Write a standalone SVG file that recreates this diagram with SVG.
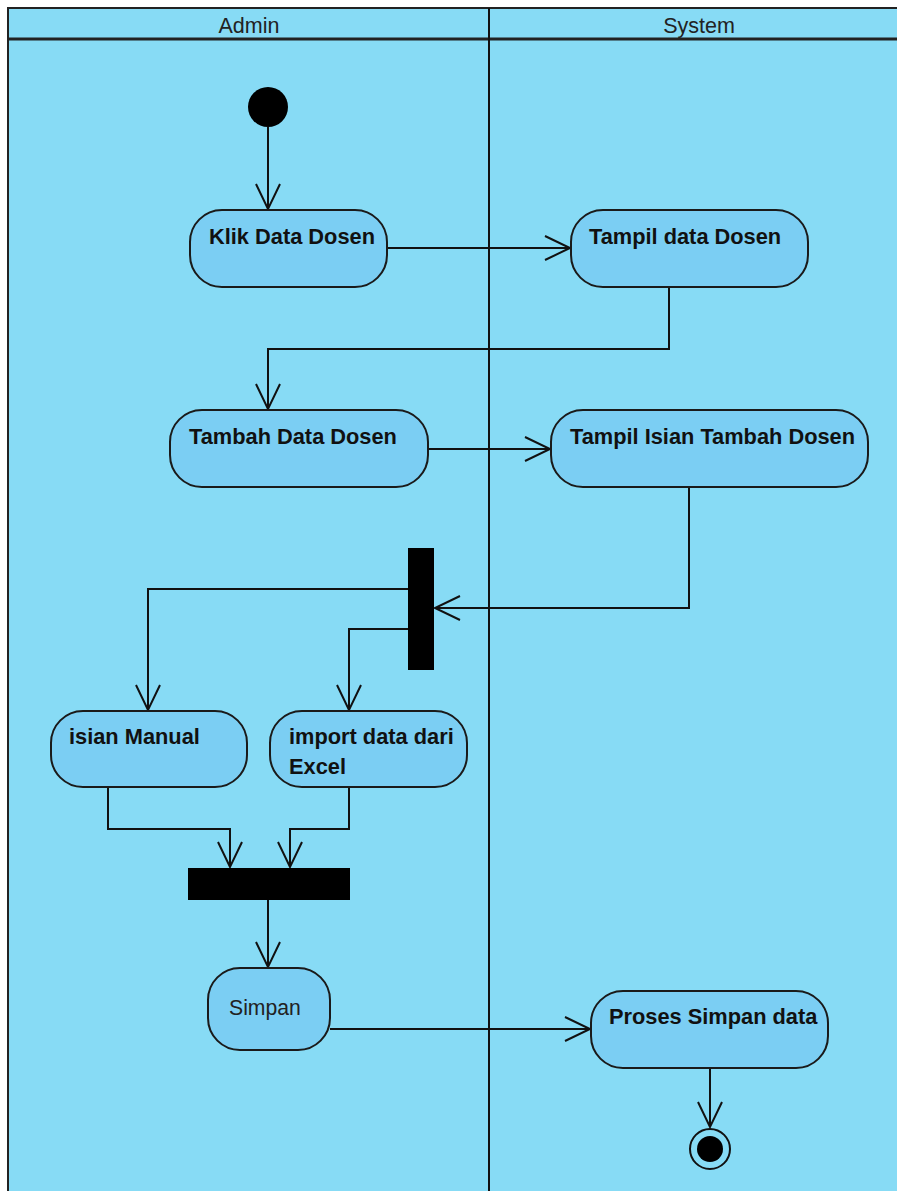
<svg xmlns="http://www.w3.org/2000/svg" width="897" height="1191" viewBox="0 0 897 1191">
<style>
.lane{fill:#87DBF5;stroke:#222;stroke-width:2}
.node{fill:#7BCEF3;stroke:#1a1a1a;stroke-width:2}
.lbl{font-family:"Liberation Sans",Arial,sans-serif;font-size:21.8px;font-weight:bold;fill:#111}
.reg{font-family:"Liberation Sans",Arial,sans-serif;font-size:21.2px;fill:#222}
.hdr{font-family:"Liberation Sans",Arial,sans-serif;font-size:21.5px;fill:#222;text-anchor:middle}
.edge{fill:none;stroke:#111;stroke-width:2}
</style>
<defs>
<marker id="arr" markerUnits="userSpaceOnUse" markerWidth="30" markerHeight="30" viewBox="-27 -14 30 28" refX="0" refY="0" orient="auto">
<path d="M-25,-12 L0,0 L-25,12" fill="none" stroke="#111" stroke-width="2"/>
</marker>
</defs>
<rect x="0" y="0" width="897" height="1191" fill="#ffffff"/>
<g id="lanes">
<rect class="lane" x="8" y="8" width="900" height="1200"/>
<line x1="8" y1="39" x2="897" y2="39" stroke="#222" stroke-width="3"/>
<line x1="489" y1="8" x2="489" y2="1191" stroke="#111" stroke-width="2"/>
<text class="hdr" x="249" y="33">Admin</text>
<text class="hdr" x="699" y="33">System</text>
</g>
<g id="connectors">
<path class="edge" d="M268,127 L268,209" marker-end="url(#arr)"/>
<path class="edge" d="M387,248 L570,248" marker-end="url(#arr)"/>
<path class="edge" d="M669,287 L669,349 L268,349 L268,409" marker-end="url(#arr)"/>
<path class="edge" d="M428,449 L550,449" marker-end="url(#arr)"/>
<path class="edge" d="M689,487 L689,608 L435,608" marker-end="url(#arr)"/>
<path class="edge" d="M408,589 L148,589 L148,710" marker-end="url(#arr)"/>
<path class="edge" d="M408,629 L349,629 L349,710" marker-end="url(#arr)"/>
<path class="edge" d="M108,787 L108,829 L230,829 L230,867" marker-end="url(#arr)"/>
<path class="edge" d="M349,787 L349,829 L290,829 L290,867" marker-end="url(#arr)"/>
<path class="edge" d="M268,900 L268,967" marker-end="url(#arr)"/>
<path class="edge" d="M330,1029 L590,1029" marker-end="url(#arr)"/>
<path class="edge" d="M710,1068 L710,1127" marker-end="url(#arr)"/>
</g>
<g id="start"><circle cx="268" cy="107" r="20" fill="#000"/></g>
<g id="klik"><rect class="node" x="190" y="210" width="197" height="77" rx="32"/><text class="lbl" x="209" y="244">Klik Data Dosen</text></g>
<g id="tampilData"><rect class="node" x="571" y="210" width="237" height="77" rx="32"/><text class="lbl" x="589" y="244">Tampil data Dosen</text></g>
<g id="tambah"><rect class="node" x="170" y="410" width="258" height="77" rx="32"/><text class="lbl" x="189" y="444">Tambah Data Dosen</text></g>
<g id="tampilIsian"><rect class="node" x="551" y="410" width="317" height="77" rx="32"/><text class="lbl" x="570" y="444">Tampil Isian Tambah Dosen</text></g>
<g id="fork"><rect x="408" y="548" width="26" height="122" fill="#000"/></g>
<g id="manual"><rect class="node" x="51" y="711" width="196" height="76" rx="32"/><text class="lbl" x="69" y="744">isian Manual</text></g>
<g id="import"><rect class="node" x="270" y="711" width="197" height="76" rx="32"/><text class="lbl" x="289" y="744">import data dari</text><text class="lbl" x="289" y="774">Excel</text></g>
<g id="join"><rect x="188" y="868" width="162" height="32" fill="#000"/></g>
<g id="simpan"><rect class="node" x="208" y="968" width="122" height="82" rx="32"/><text class="reg" x="229" y="1015">Simpan</text></g>
<g id="proses"><rect class="node" x="591" y="991" width="237" height="77" rx="32"/><text class="lbl" x="609" y="1024">Proses Simpan data</text></g>
<g id="end"><circle cx="710" cy="1149" r="20" fill="none" stroke="#111" stroke-width="2"/><circle cx="710" cy="1149" r="13" fill="#000"/></g>
</svg>
